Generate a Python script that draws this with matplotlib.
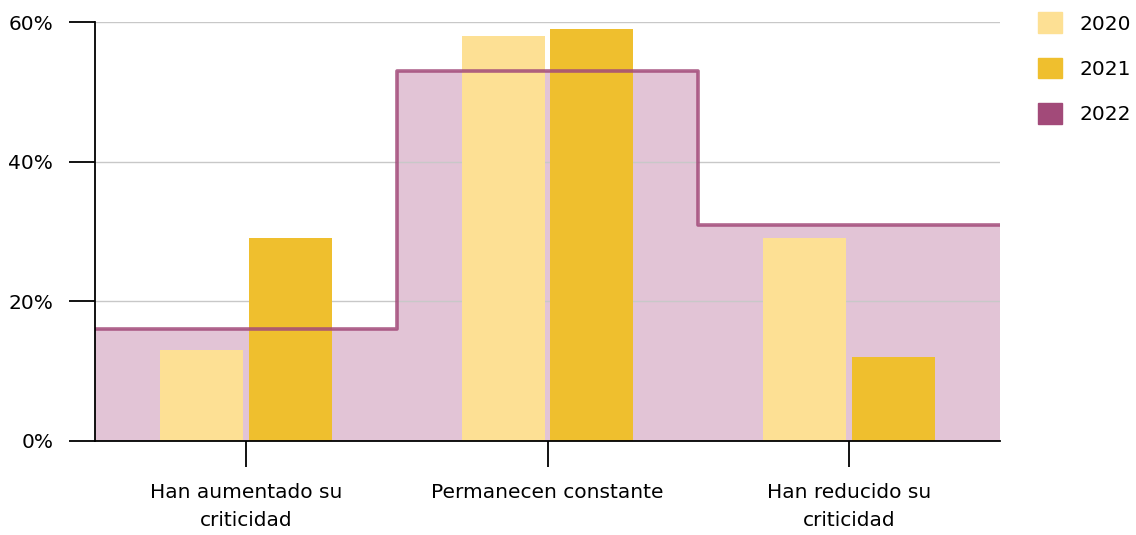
import matplotlib
matplotlib.use("Agg")
import matplotlib.pyplot as plt
from matplotlib.patches import Patch
from matplotlib.ticker import FuncFormatter

categories = ["Han aumentado su\ncriticidad", "Permanecen constante", "Han reducido su\ncriticidad"]
values_2020 = [13, 58, 29]
values_2021 = [29, 59, 12]
values_2022 = [16, 53, 31]
series_names = ["2020", "2021", "2022"]

c2020 = "#fde094"
c2021 = "#efbf2e"
c2022_line = "#a24a79"
c2022_fill = "#e2c4d6"

plt.rcParams["font.family"] = "DejaVu Sans"
fs = 14.5

fig = plt.figure(figsize=(11.36, 5.35), dpi=100)
ax = fig.add_axes([95 / 1136, 94 / 535, 905 / 1136, 419 / 535])

x = list(range(len(categories)))
edges = [i - 0.5 for i in x] + [x[-1] + 0.5]

# 2022 as a filled step area behind the bars
ax.stairs(values_2022, edges, fill=True, color=c2022_fill, baseline=0, zorder=1)

w = 0.275
off = 0.147
ax.bar([i - off for i in x], values_2020, width=w, color=c2020, zorder=3)
ax.bar([i + off for i in x], values_2021, width=w, color=c2021, zorder=3)

# step line over the bars
ax.stairs(values_2022, edges, fill=False, baseline=None, color=c2022_line,
          linewidth=2.6, alpha=0.85, zorder=4, joinstyle="round")

ax.set_xlim(-0.5, 2.5)
ax.set_ylim(0, 60)
ax.set_yticks([0, 20, 40, 60])
ax.yaxis.set_major_formatter(FuncFormatter(lambda v, p: f"{v:.0f}%"))
ax.set_xticks(x)
ax.set_xticklabels(categories, fontsize=fs, linespacing=1.65)

ax.grid(axis="y", color="#c8c8c8", linewidth=1, zorder=2)
ax.set_axisbelow(False)
for gl in ax.get_ygridlines():
    gl.set_zorder(2)

ax.tick_params(axis="y", length=19, width=1.3, pad=11, labelsize=fs, colors="black")
ax.tick_params(axis="x", length=19, width=1.3, pad=11, labelsize=fs)
for s in ["top", "right"]:
    ax.spines[s].set_visible(False)
ax.spines["left"].set_linewidth(1.3)
ax.spines["bottom"].set_linewidth(1.3)
ax.spines["left"].set_zorder(5)
ax.spines["bottom"].set_zorder(5)

handles = [Patch(color=c2020), Patch(color=c2021), Patch(color=c2022_line)]
ax.legend(handles, series_names, loc="upper left", bbox_to_anchor=(1.022, 1.066),
          frameon=False, fontsize=fs, handlelength=1.2, handleheight=1.2,
          labelspacing=1.2, handletextpad=0.85)

fig.savefig("out.png", dpi=100)
